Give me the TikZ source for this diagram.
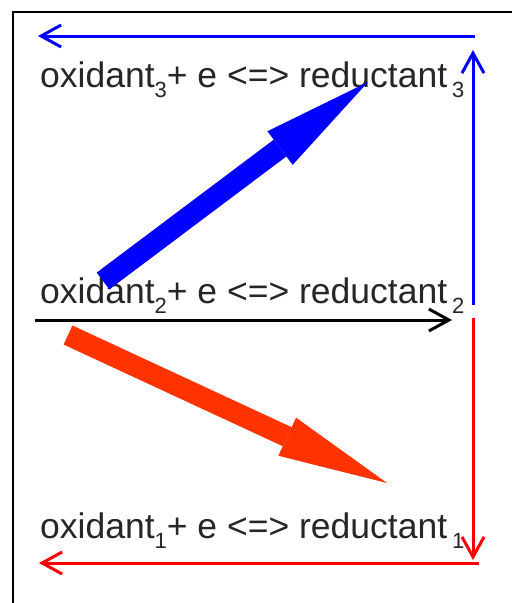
\documentclass[tikz,border=0pt]{standalone}
\usepackage{fontspec}
\setmainfont{Liberation Sans}
\usetikzlibrary{arrows.meta}
\newcommand\subidx[1]{\raisebox{-10pt}{\fontsize{22}{22}\selectfont #1}}
\definecolor{fatred}{HTML}{FF3300}
\definecolor{txt}{HTML}{262626}
\begin{document}
\begin{tikzpicture}[x=1pt,y=-1pt,
  frame/.style={line width=1.5pt},
  thinarrow/.style={line width=3pt, -{Straight Barb[length=20pt,width=22pt]}},
  fatarrow/.style={line width=21pt, -{Triangle[length=110pt,width=42pt,line width=0pt]}},
  eq/.style={anchor=base west, inner sep=0pt, font=\fontsize{35.5}{40}\selectfont, text=txt}]
\useasboundingbox (0,0) rectangle (512,603);
\draw[frame] (13,603) -- (13,12) -- (512,12);
% equations
\node[eq] (e3) at (40,87) {oxidant\subidx{3}+ e <=> reductant\hspace{5pt}\subidx{3}};
\node[eq] (e2) at (40,303) {oxidant\subidx{2}+ e <=> reductant\hspace{5pt}\subidx{2}};
\node[eq] (e1) at (40,538) {oxidant\subidx{1}+ e <=> reductant\hspace{5pt}\subidx{1}};
% coordinates
\coordinate (bh1) at (475,36);
\coordinate (bh2) at (38,36);
\coordinate (bv1) at (473,305);
\coordinate (bv2) at (473,50);
\coordinate (k1) at (35,320);
\coordinate (k2) at (452,320);
\coordinate (rv1) at (473,318);
\coordinate (rv2) at (473,560);
\coordinate (rh1) at (479,563);
\coordinate (rh2) at (39,563);
\coordinate (fb1) at (103,281);
\coordinate (fb2) at (368,82);
\coordinate (fr1) at (68,335);
\coordinate (fr2) at (387,483);
% thin arrows
\draw[thinarrow, blue] (bh1) -- (bh2);
\draw[thinarrow, blue] (bv1) -- (bv2);
\draw[thinarrow, black] (k1) -- (k2);
\draw[thinarrow, red] (rv1) -- (rv2);
\draw[thinarrow, red] (rh1) -- (rh2);
% fat arrows
\draw[fatarrow, blue] (fb1) -- (fb2);
\draw[fatarrow, fatred] (fr1) -- (fr2);
\end{tikzpicture}
\end{document}
